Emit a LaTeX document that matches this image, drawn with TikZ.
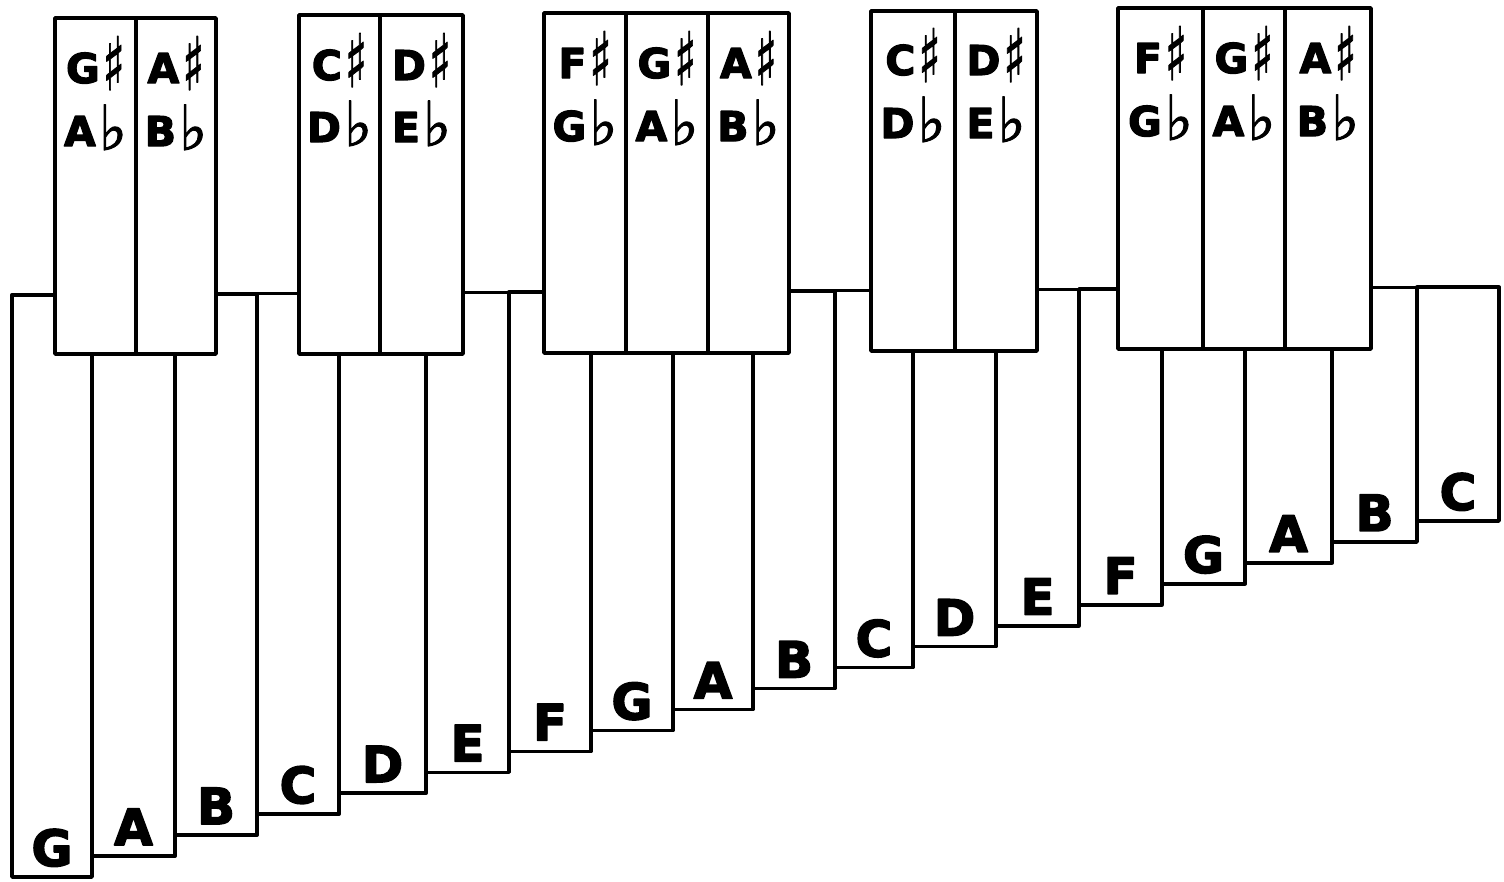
\documentclass[tikz,border=0pt]{standalone}
\usepackage{fontspec}
\usepackage{graphicx}
\setmainfont{DejaVu Sans}[BoldFeatures={FakeBold=3}]
\newfontfamily\symfont{DejaVu Sans}[FakeBold=1.5]
\newcommand\mysharp{\raisebox{-7pt}{\scalebox{1.0}[1.6]{\fontsize{46}{46}\selectfont\symfont ♯}}}
\newcommand\myflat{\raisebox{-4pt}{\scalebox{1.3}[1.35]{\fontsize{46}{46}\selectfont\symfont ♭}}}
\begin{document}
\begin{tikzpicture}[x=1pt,y=-1pt,line width=3.6pt,line join=round,
  bar/.style={draw=black,fill=white},
  keybox/.style={draw=black,fill=white},
  wlabel/.style={anchor=base,inner sep=0pt,font=\fontsize{50}{50}\selectfont\bfseries},
  blabel/.style={anchor=base,inner sep=0pt,font=\fontsize{41}{41}\selectfont\bfseries}]
\useasboundingbox (0,0) rectangle (1504,881);
% white bars
\foreach \l/\r/\n [count=\i] in {12/92/G,92/175/A,175/257/B,257/339/C,339/426/D,426/509/E,509/591/F,591/673/G,673/753/A,753/835/B,835/913/C,913/996/D,996/1079/E,1079/1162/F,1162/1245/G,1245/1332/A,1332/1417/B,1417/1499/C}{
  \pgfmathsetmacro\yb{877-(\i-1)*20.94}
  \pgfmathsetmacro\yt{295-((\l+\r)/2-12)*0.0054}
  \draw[bar] (\l,\yt) rectangle (\r,\yb);
  \node[wlabel] (w\i) at ({(\l+\r)/2},{\yb-11}) {\n};
}
% black (accidental) bars
\foreach \l/\r/\t/\b/\s/\f/\ya/\yc [count=\i] in {
  55/136/18/354/G/A/83/146,136/216/18/354/A/B/83/146,
  299/380/15/354/C/D/80/142,380/463/15/354/D/E/80/142,
  544/626/13/353/F/G/78/141,626/708/13/353/G/A/78/141,708/789/13/353/A/B/78/141,
  871/955/11/351/C/D/75/138,955/1037/11/351/D/E/75/138,
  1118/1203/8/349/F/G/73/136,1203/1285/8/349/G/A/73/136,1285/1371/8/349/A/B/73/136}{
  \draw[keybox] (\l,\t) rectangle (\r,\b);
  \node[blabel] (s\i) at ({(\l+\r)/2},\ya) {\s\kern3pt\mysharp};
  \node[blabel] (f\i) at ({(\l+\r)/2},\yc) {\f\kern3pt\myflat};
}
\end{tikzpicture}
\end{document}
